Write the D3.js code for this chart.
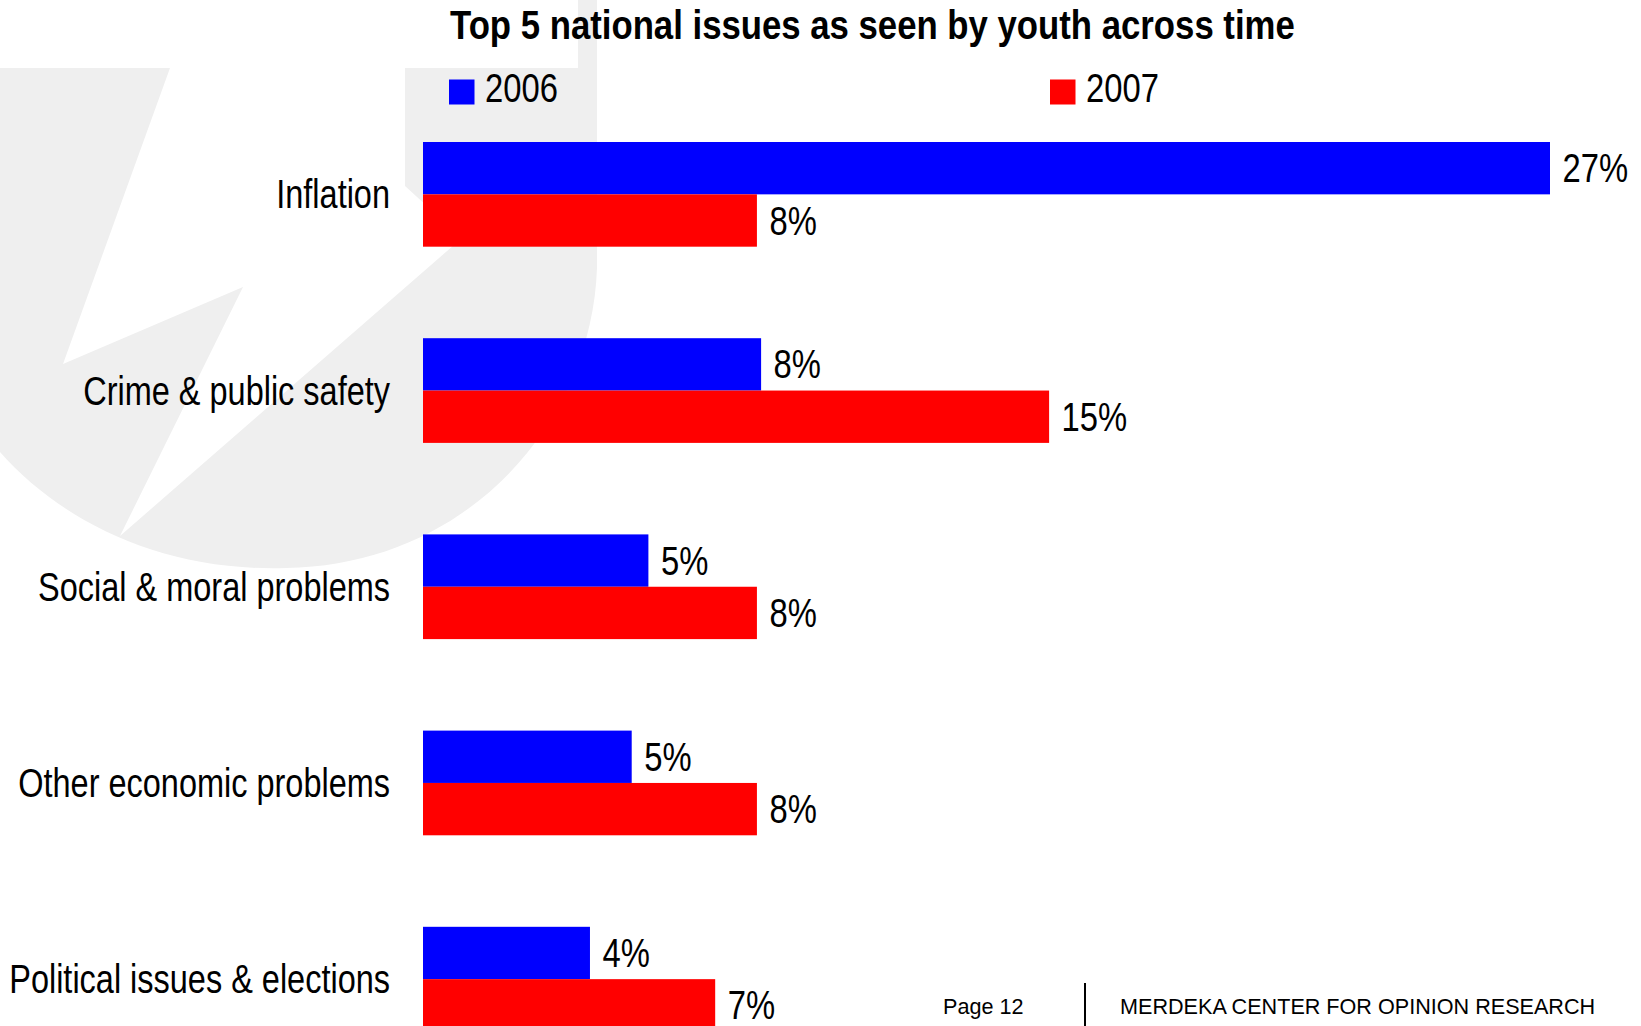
<!DOCTYPE html>
<html>
<head>
<meta charset="utf-8">
<script src="https://cdn.jsdelivr.net/npm/d3@7"></script>
<style>
  html, body { margin: 0; padding: 0; background: #ffffff; overflow: hidden; }
  svg { display: block; }
  text { font-family: "Liberation Sans", Arial, Helvetica, sans-serif; fill: #000; }
</style>
</head>
<body>
<svg id="chart" width="1641" height="1026"></svg>
<script>
// ---- data ----
const categories = [
  "Inflation",
  "Crime & public safety",
  "Social & moral problems",
  "Other economic problems",
  "Political issues & elections"
];
const seriesNames = ["2006", "2007"];
const values2006 = [27, 8.1, 5.4, 5.0, 4.0];
const values2007 = [8.0, 15.0, 8.0, 8.0, 7.0];
const seriesColors = ["#0000ff", "#ff0000"];
const titleText = "Top 5 national issues as seen by youth across time";
const footerPage = "Page 12";
const footerOrg = "MERDEKA CENTER FOR OPINION RESEARCH";

const series = [values2006, values2007];

// ---- layout ----
const svg = d3.select("#chart");
const NARROW = 0.82;

// Horizontally condense a text (narrow face look) by a scale transform around its anchor.
function condense(sel, factor) {
  sel.each(function () {
    const t = d3.select(this);
    const px = +t.attr("x"), py = +t.attr("y");
    t.attr("x", 0).attr("y", 0)
     .attr("transform", `translate(${px},${py}) scale(${factor},1)`);
  });
}

// ---- watermark (decorative background logo) ----
const wm = svg.append("g").attr("class", "watermark");
wm.append("path")
  .attr("d", "M0,68 H578 V0 H597 V268 C592,420 470,565 286,568 C160,572 60,520 0,452 Z")
  .attr("fill", "#efefef");
wm.append("path")
  .attr("d", "M170,68 L405,68 L405,186 L462,238 L120,536 L243,287 L63,364 Z")
  .attr("fill", "#ffffff");

// ---- scales ----
const x = d3.scaleLinear().domain([0, 27]).range([423, 1550]);
const y0 = d3.scaleBand().domain(categories).range([142, 1031.5]).paddingInner(0.4664).paddingOuter(0).align(0);
const y1 = d3.scaleBand().domain(seriesNames).range([0, y0.bandwidth()]).padding(0);

// ---- bars ----
const groups = svg.append("g").selectAll("g.cat")
  .data(categories)
  .join("g")
  .attr("class", "cat")
  .attr("transform", d => `translate(0,${y0(d)})`);

groups.selectAll("rect")
  .data((c, i) => seriesNames.map((s, j) => ({ s, j, v: series[j][i] })))
  .join("rect")
  .attr("x", x(0))
  .attr("y", d => y1(d.s))
  .attr("width", d => x(d.v) - x(0))
  .attr("height", y1.bandwidth())
  .attr("fill", d => seriesColors[d.j]);

const valueLabels = groups.selectAll("text.val")
  .data((c, i) => seriesNames.map((s, j) => ({ s, j, v: series[j][i] })))
  .join("text")
  .attr("class", "val")
  .attr("x", d => x(d.v) + 12.5)
  .attr("y", d => y1(d.s) + y1.bandwidth() / 2 + 14)
  .attr("font-size", 40)
  .text(d => Math.round(d.v) + "%");
condense(valueLabels, NARROW);

// ---- category labels ----
const catLabels = svg.append("g").selectAll("text")
  .data(categories)
  .join("text")
  .attr("x", 390)
  .attr("y", d => y0(d) + y0.bandwidth() / 2 + 14)
  .attr("text-anchor", "end")
  .attr("font-size", 40)
  .text(d => d);
condense(catLabels, 0.812);

// ---- title ----
const title = svg.append("text")
  .attr("x", 450)
  .attr("y", 39)
  .attr("font-size", 40)
  .attr("font-weight", "bold")
  .text(titleText);
{
  const natural = title.node().getComputedTextLength();
  title.attr("x", 0).attr("y", 0)
    .attr("transform", `translate(450,39) scale(${845 / natural},1)`);
}

// ---- legend ----
const legendX = [449, 1050];
const legend = svg.append("g").selectAll("g")
  .data(seriesNames)
  .join("g")
  .attr("transform", (d, i) => `translate(${legendX[i]},0)`);
legend.append("rect")
  .attr("x", 0).attr("y", 79.5)
  .attr("width", 25.5).attr("height", 25)
  .attr("fill", (d, i) => seriesColors[i]);
const legendText = legend.append("text")
  .attr("x", 36).attr("y", 102)
  .attr("font-size", 40)
  .text(d => d);
condense(legendText, NARROW);

// ---- footer ----
svg.append("text")
  .attr("x", 943).attr("y", 1014)
  .attr("font-size", 21.6)
  .text(footerPage);
svg.append("line")
  .attr("x1", 1085).attr("x2", 1085)
  .attr("y1", 983).attr("y2", 1026)
  .attr("stroke", "#000").attr("stroke-width", 2);
svg.append("text")
  .attr("x", 1120).attr("y", 1014)
  .attr("font-size", 21.6)
  .text(footerOrg);
</script>
</body>
</html>
